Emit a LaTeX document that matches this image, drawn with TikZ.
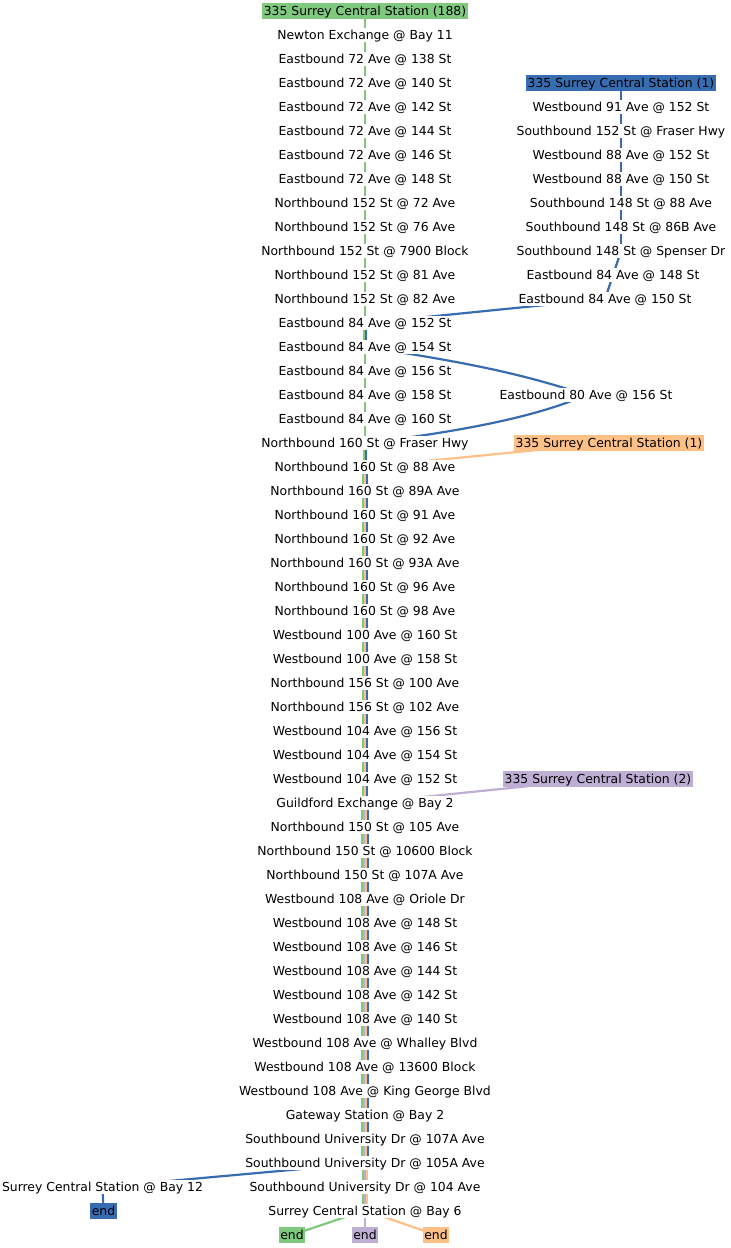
\documentclass[tikz,border=0pt]{standalone}
\usepackage{fontspec}
\setmainfont{DejaVu Sans}
\pgfdeclarelayer{bg}
\pgfsetlayers{bg,main}
\definecolor{cg}{HTML}{7FC97F}
\definecolor{cb}{HTML}{386CB0}
\definecolor{co}{HTML}{FDC086}
\definecolor{cp}{HTML}{BEAED4}
\newcommand\lowered[1]{\raisebox{-2pt}{#1}}
\begin{document}
\begin{tikzpicture}[x=1pt,y=-1pt,
  stop/.style={fill=white, inner xsep=1pt, inner ysep=1pt, text height=8pt, text depth=4pt, font=\fontsize{12.4}{14}\selectfont},
  term/.style={stop, inner xsep=1.5pt, inner ysep=2pt},
  ln/.style={line width=2.2pt},
]
\useasboundingbox (0,0) rectangle (731,1248);
% main column
\node[term, fill=cg] (m0) at (365,11) {\lowered{335 Surrey Central Station (188)}};
\foreach \t [count=\i from 1] in {Newton Exchange @ Bay 11,Eastbound 72 Ave @ 138 St,Eastbound 72 Ave @ 140 St,Eastbound 72 Ave @ 142 St,Eastbound 72 Ave @ 144 St,Eastbound 72 Ave @ 146 St,Eastbound 72 Ave @ 148 St,Northbound 152 St @ 72 Ave,Northbound 152 St @ 76 Ave,Northbound 152 St @ 7900 Block,Northbound 152 St @ 81 Ave,Northbound 152 St @ 82 Ave,Eastbound 84 Ave @ 152 St,Eastbound 84 Ave @ 154 St,Eastbound 84 Ave @ 156 St,Eastbound 84 Ave @ 158 St,Eastbound 84 Ave @ 160 St,Northbound 160 St @ Fraser Hwy,Northbound 160 St @ 88 Ave,Northbound 160 St @ 89A Ave,Northbound 160 St @ 91 Ave,Northbound 160 St @ 92 Ave,Northbound 160 St @ 93A Ave,Northbound 160 St @ 96 Ave,Northbound 160 St @ 98 Ave,Westbound 100 Ave @ 160 St,Westbound 100 Ave @ 158 St,Northbound 156 St @ 100 Ave,Northbound 156 St @ 102 Ave,Westbound 104 Ave @ 156 St,Westbound 104 Ave @ 154 St,Westbound 104 Ave @ 152 St,Guildford Exchange @ Bay 2,Northbound 150 St @ 105 Ave,Northbound 150 St @ 10600 Block,Northbound 150 St @ 107A Ave,Westbound 108 Ave @ Oriole Dr,Westbound 108 Ave @ 148 St,Westbound 108 Ave @ 146 St,Westbound 108 Ave @ 144 St,Westbound 108 Ave @ 142 St,Westbound 108 Ave @ 140 St,Westbound 108 Ave @ Whalley Blvd,Westbound 108 Ave @ 13600 Block,Westbound 108 Ave @ King George Blvd,Gateway Station @ Bay 2,Southbound University Dr @ 107A Ave,Southbound University Dr @ 105A Ave,Southbound University Dr @ 104 Ave,Surrey Central Station @ Bay 6}
  \node[stop] (m\i) at (365,11+24*\i) {\lowered{\t}};
% right column (blue branch)
\node[term, fill=cb] (r3) at (621,83) {\lowered{335 Surrey Central Station (1)}};
\node[stop] (r4) at (621,107) {\lowered{Westbound 91 Ave @ 152 St}};
\node[stop] (r5) at (621,131) {\lowered{Southbound 152 St @ Fraser Hwy}};
\node[stop] (r6) at (621,155) {\lowered{Westbound 88 Ave @ 152 St}};
\node[stop] (r7) at (621,179) {\lowered{Westbound 88 Ave @ 150 St}};
\node[stop] (r8) at (621,203) {\lowered{Southbound 148 St @ 88 Ave}};
\node[stop] (r9) at (621,227) {\lowered{Southbound 148 St @ 86B Ave}};
\node[stop] (r10) at (621,251) {\lowered{Southbound 148 St @ Spenser Dr}};
\node[stop] (r11) at (613,275) {\lowered{Eastbound 84 Ave @ 148 St}};
\node[stop] (r12) at (605,299) {\lowered{Eastbound 84 Ave @ 150 St}};
\node[stop] (r16) at (586,395) {\lowered{Eastbound 80 Ave @ 156 St}};
\node[term, fill=co] (o18) at (609,443) {\lowered{335 Surrey Central Station (1)}};
\node[term, fill=cp] (p32) at (598,779) {\lowered{335 Surrey Central Station (2)}};
\node[stop] (l49) at (102.5,1187) {\lowered{Surrey Central Station @ Bay 12}};
\node[term, fill=cb] (eb) at (103.5,1211) {\lowered{end}};
\node[term, fill=cg] (eg) at (292,1235) {\lowered{end}};
\node[term, fill=cp] (ep) at (365,1235) {\lowered{end}};
\node[term, fill=co] (eo) at (436,1235) {\lowered{end}};
\begin{pgfonlayer}{bg}
  \foreach \i [evaluate=\i as \j using int(\i+1)] in {0,...,12,14,15,16,17}
    \draw[ln,cg] (m\i.center) -- (m\j.center);
  \foreach \i [evaluate=\i as \j using int(\i+1)] in {13,18} {
    \draw[ln,cg] ([xshift=-1pt]m\i.center) -- ([xshift=-1pt]m\j.center);
    \draw[ln,cb] ([xshift=1pt]m\i.center) -- ([xshift=1pt]m\j.center);
  }
  \foreach \i [evaluate=\i as \j using int(\i+1)] in {19,...,32} {
    \draw[ln,cg] ([xshift=-2pt]m\i.center) -- ([xshift=-2pt]m\j.center);
    \draw[ln,co] (m\i.center) -- (m\j.center);
    \draw[ln,cb] ([xshift=2pt]m\i.center) -- ([xshift=2pt]m\j.center);
  }
  \foreach \i [evaluate=\i as \j using int(\i+1)] in {33,...,47} {
    \draw[ln,cg] ([xshift=-3pt]m\i.center) -- ([xshift=-3pt]m\j.center);
    \draw[ln,cp] ([xshift=-1pt]m\i.center) -- ([xshift=-1pt]m\j.center);
    \draw[ln,co] ([xshift=1pt]m\i.center) -- ([xshift=1pt]m\j.center);
    \draw[ln,cb] ([xshift=3pt]m\i.center) -- ([xshift=3pt]m\j.center);
  }
  \foreach \i [evaluate=\i as \j using int(\i+1)] in {48,49} {
    \draw[ln,cg] ([xshift=-2pt]m\i.center) -- ([xshift=-2pt]m\j.center);
    \draw[ln,cp] (m\i.center) -- (m\j.center);
    \draw[ln,co] ([xshift=2pt]m\i.center) -- ([xshift=2pt]m\j.center);
  }
  % blue branch
  \foreach \i [evaluate=\i as \j using int(\i+1)] in {3,...,11}
    \draw[ln,cb] (r\i.center) -- (r\j.center);
  \draw[ln,cb] (r12.center) -- ([xshift=1pt]m13.center);
  \draw[ln,cb] ([xshift=1pt]m14.center) .. controls (450,360) and (515,371) .. (r16.center);
  \draw[ln,cb] (r16.center) .. controls (530,420) and (440,434) .. ([xshift=1pt]m18.center);
  \draw[ln,cb] ([xshift=3pt]m48.center) -- (l49.center);
  \draw[ln,cb] (l49.center) -- (eb.center);
  % orange and purple branches
  \draw[ln,co] (o18.center) -- (m19.center);
  \draw[ln,cp] (p32.center) -- ([xshift=-1pt]m33.center);
  % ends
  \draw[ln,cg] ([xshift=-2pt]m50.center) -- (eg.center);
  \draw[ln,cp] (m50.center) -- (ep.center);
  \draw[ln,co] ([xshift=2pt]m50.center) -- (eo.center);
\end{pgfonlayer}
\end{tikzpicture}
\end{document}
